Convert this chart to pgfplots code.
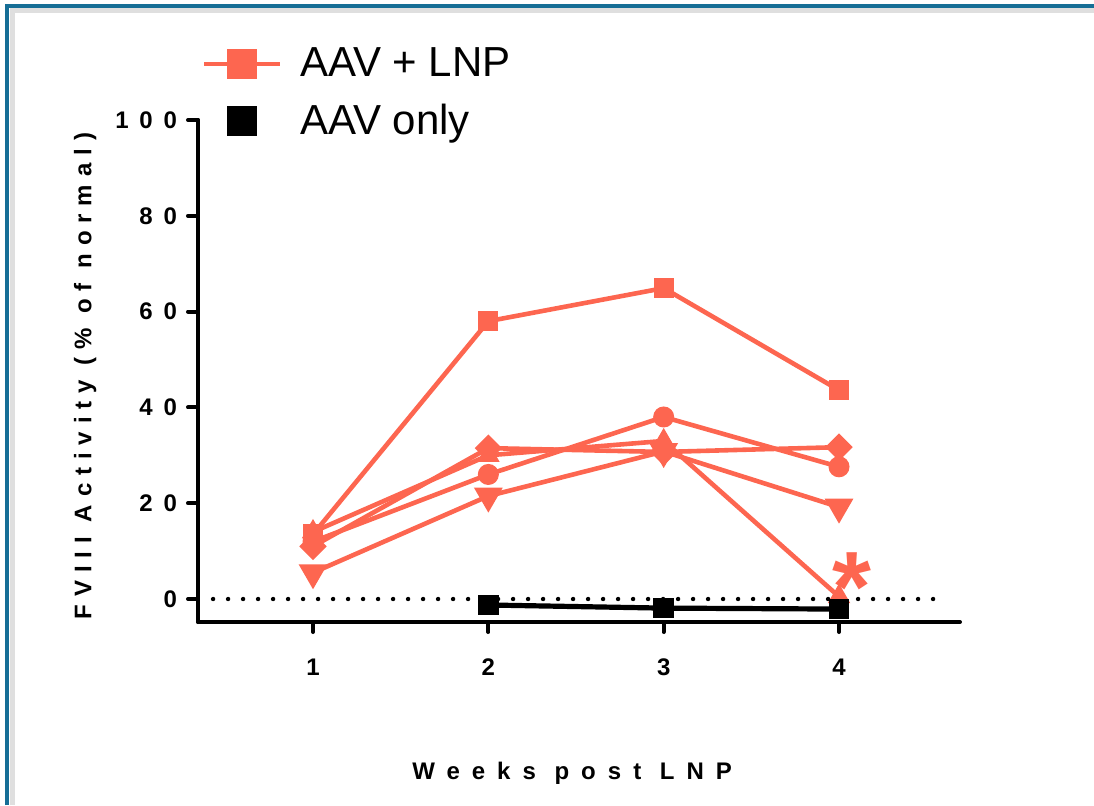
\documentclass[border=0pt]{standalone}
\usepackage{fontspec}
\setmainfont{Liberation Sans}
\newfontfamily\tickfont[LetterSpace=45]{Liberation Sans}
\newfontfamily\ylabfont[LetterSpace=33]{Liberation Sans}
\newfontfamily\xlabfont[LetterSpace=50]{Liberation Sans}
\usepackage{pgfplots}
\pgfplotsset{compat=1.18}
\definecolor{lnp}{RGB}{253,102,80}
\definecolor{frame}{RGB}{22,110,150}
\pgfplotsset{
  lnpstyle/.style={lnp, line width=2.3pt, mark options={solid, line width=0.5pt}, forget plot},
}
\begin{document}
\begin{tikzpicture}
\useasboundingbox (0,0) rectangle (547pt,402.5pt);
\draw[gray!25, line width=2.5pt] (6pt,0) -- (6pt,397pt) -- (548pt,397pt);
\draw[frame, line width=2pt] (3.25pt,0) -- (3.25pt,399.5pt) -- (548pt,399.5pt);
\begin{axis}[
  at={(99pt,91.5pt)}, anchor=south west,
  scale only axis, width=381pt, height=251pt,
  xmin=0.344, xmax=4.69, ymin=-4.8, ymax=100,
  axis x line=bottom, axis y line=left,
  axis line style={line width=2pt, -, line cap=round},
  tick align=outside, major tick length=5pt,
  every tick/.style={black, line width=2pt, line cap=round},
  xtick={1,2,3,4}, xticklabels={1,2,3,4},
  ytick={0,20,40,60,80,100}, yticklabels={0,20,40,60,80,100},
  ticklabel style={font=\tickfont\bfseries\fontsize{12}{14}\selectfont},
  xticklabel style={yshift=-10pt},
  yticklabel style={xshift=-2pt},
  clip=false,
  xlabel={Weeks post LNP}, ylabel={FVIII Activity (\% of normal)},
  xlabel style={font=\xlabfont\bfseries\fontsize{12}{14}\selectfont, at={(axis description cs:0.491,-0.301)}, anchor=center},
  ylabel style={font=\ylabfont\bfseries\fontsize{12}{14}\selectfont, at={(axis description cs:-0.148,0.49)}, anchor=center},
  legend style={at={(axis description cs:0.005,1.145)}, anchor=north west, draw=none, fill=none,
    font=\fontsize{21}{25}\selectfont, row sep=12.5pt, column sep=9pt, inner sep=0pt, nodes={inner sep=0pt}},
  legend cell align=left,
  legend image code/.code={\draw[mark repeat=2,mark phase=2,#1] plot coordinates {(0pt,0pt) (19pt,0pt) (38pt,0pt)};},
]
\addlegendimage{lnp, line width=2pt, mark=square*, mark size=7.25pt, mark options={solid, line width=0.5pt}}
\addlegendentry{AAV + LNP}
\addlegendimage{black, only marks, mark=square*, mark size=7.25pt, mark options={line width=0.5pt}}
\addlegendentry{AAV only}

% dotted reference line at 0
\addplot[black, line width=2.2pt, dash pattern=on 0pt off 7.5pt, line cap=round, forget plot] coordinates {(0.43,0) (4.594,0)};

% AAV + LNP animals
\addplot[lnpstyle, mark=square*, mark size=4.75pt] coordinates {(1,13.5) (2,58.0) (3,64.9) (4,43.6)};
\addplot[lnpstyle, mark=*, mark size=5pt] coordinates {(1,12.0) (2,26.0) (3,38.0) (4,27.6)};
\addplot[lnpstyle, mark=square*, mark size=3.7pt, mark options={rotate=45}] coordinates {(1,11.0) (2,31.5) (3,30.7) (4,31.7)};
\addplot[lnpstyle, mark=triangle*, mark size=6pt] coordinates {(1,14.0) (2,30.0) (3,33.0) (4,0.5)};
\addplot[lnpstyle, mark=triangle*, mark size=6pt, mark options={rotate=180}] coordinates {(1,5.5) (2,21.5) (3,30.8) (4,19.2)};

% AAV only
\addplot[black, line width=2.6pt, mark=square*, mark size=4.9pt, mark options={line width=0.5pt}, forget plot] coordinates {(2,-1.25) (3,-1.9) (4,-2.1)};

\node[anchor=base, text=lnp, font=\bfseries\fontsize{50}{50}\selectfont] at (axis cs:4.074,-4.6) {*};
\end{axis}
\end{tikzpicture}
\end{document}
